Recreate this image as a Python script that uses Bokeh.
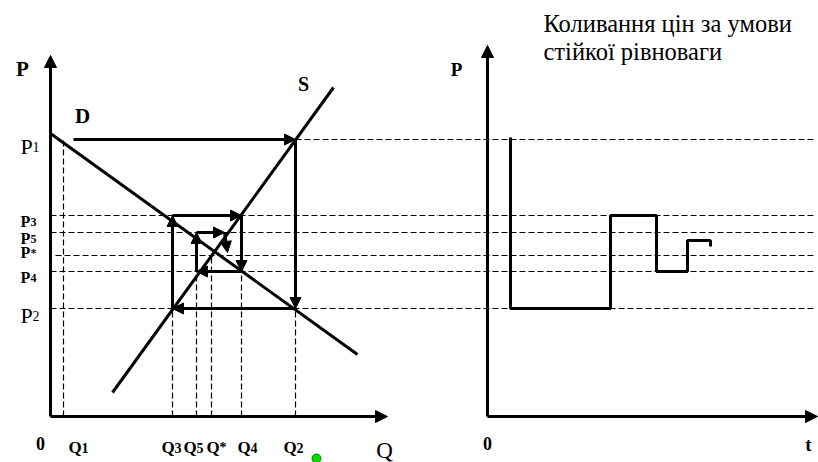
from bokeh.plotting import figure
from bokeh.layouts import row
from bokeh.models import Range1d, Arrow, NormalHead, ColumnDataSource
from bokeh.core.properties import value
from bokeh.embed import file_html
from bokeh.resources import INLINE

# ---------------- data ----------------
price_names = ["P1", "P3", "P5", "P*", "P4", "P2"]
price_levels = [27.7, 20.1, 18.4, 16.1, 14.5, 10.8]
qty_names = ["Q1", "Q3", "Q5", "Q*", "Q4", "Q2"]
qty_levels = [1.3, 12.2, 14.6, 16.1, 19.1, 24.5]
qty_tops = [27.7, 10.8, 14.5, 16.1, 14.5, 10.8]

demand_q = [0.0, 30.7]
demand_p = [28.3, 6.2]
supply_q = [6.2, 28.3]
supply_p = [2.4, 32.9]

cobweb_q = [2.3, 24.5, 24.5, 12.2, 12.2, 19.1, 19.1, 14.6, 14.6, 17.4, 17.7]
cobweb_p = [27.7, 27.7, 10.8, 10.8, 20.1, 20.1, 14.5, 14.5, 18.4, 18.4, 16.4]

time_t = [2.3, 2.3, 12.3, 12.3, 16.9, 16.9, 20.0, 20.0, 22.3, 22.3]
time_p = [27.9, 10.8, 10.8, 20.1, 20.1, 14.5, 14.5, 17.6, 17.6, 17.0]

title_lines = ["Коливання цін за умови", "стійкої рівноваги"]

# ---------------- layout ----------------
LX = (-5.0, 38.8)
RX = (-4.9, 33.1)
YR = (-4.6, 41.6)
H = 462
FONT = value("Liberation Serif")


def mk(w, xr):
    p = figure(width=w, height=H, x_range=Range1d(*xr), y_range=Range1d(*YR),
               output_backend="svg", toolbar_location=None,
               x_axis_type=None, y_axis_type=None, min_border=0)
    p.grid.visible = False
    p.outline_line_color = None
    return p


def arrows(p, x0, y0, x1, y1, width=3, size=11):
    src = ColumnDataSource(dict(x0=x0, y0=y0, x1=x1, y1=y1))
    p.add_layout(Arrow(end=NormalHead(size=size, fill_color="black", line_color="black"),
                       source=src, x_start="x0", y_start="y0", x_end="x1", y_end="y1",
                       line_width=width, line_color="black"))


def two_part(p, xs, ys, names, size_main, size_sub, bold, adv, yoff):
    style = "bold" if bold else "normal"
    p.text(x=xs, y=ys, text=[n[0] for n in names], text_font=FONT,
           text_font_size=f"{size_main}px", text_font_style=style,
           text_align="left", text_baseline="alphabetic", y_offset=yoff, text_color="black")
    p.text(x=xs, y=ys, text=[n[1:] for n in names], text_font=FONT,
           text_font_size=f"{size_sub}px", text_font_style=style,
           text_align="left", text_baseline="alphabetic", x_offset=adv, y_offset=yoff,
           text_color="black")


DASH = "6 3"

# ---------------- left panel ----------------
pl = mk(438, LX)

# dashed horizontals
hx0 = [qty_levels[-1] if n == "P1" else (0.5 if n == "P*" else 0.0) for n in price_names]
pl.segment(x0=hx0, y0=price_levels, x1=[LX[1]] * len(price_levels), y1=price_levels,
           line_color="black", line_width=1.2, line_dash=DASH)
# dashed verticals
pl.segment(x0=qty_levels, y0=[0] * len(qty_levels), x1=qty_levels, y1=qty_tops,
           line_color="black", line_width=1.2, line_dash=DASH)

# demand & supply
pl.line(demand_q, demand_p, line_color="black", line_width=3)
pl.line(supply_q, supply_p, line_color="black", line_width=3)

# cobweb arrows
arrows(pl, cobweb_q[:-1], cobweb_p[:-1], cobweb_q[1:], cobweb_p[1:], width=3, size=11)

# axes
arrows(pl, [0, 0], [0, 0], [0, 33.7], [36.1, 0], width=3, size=12)

# labels
pl.text(x=[-2.8], y=[34.8], text=["P"], text_font=FONT, text_font_size="21px",
        text_font_style="bold", text_align="center", text_baseline="middle")
pl.text(x=[3.2], y=[30.1], text=["D"], text_font=FONT, text_font_size="21px",
        text_font_style="bold", text_align="center", text_baseline="middle")
pl.text(x=[25.3], y=[33.3], text=["S"], text_font=FONT, text_font_size="20px",
        text_font_style="bold", text_align="center", text_baseline="middle")
pl.text(x=[-1.0], y=[-2.7], text=["0"], text_font=FONT, text_font_size="18px",
        text_font_style="bold", text_align="center", text_baseline="middle")
pl.text(x=[33.4], y=[-3.35], text=["Q"], text_font=FONT, text_font_size="23px",
        text_align="center", text_baseline="middle")
pl.scatter(x=[26.6], y=[-4.2], size=9, fill_color="#00dd00", line_color="#008800")

# price labels: big ones (P1, P2) and small bold ones
big = [i for i, n in enumerate(price_names) if n in ("P1", "P2")]
small = [i for i, n in enumerate(price_names) if n not in ("P1", "P2")]
label_shift = {"P*": 0.9}
two_part(pl, [-3.0] * len(big), [price_levels[i] for i in big],
         [price_names[i] for i in big], 22, 14, False, 12, 7)
two_part(pl, [-3.0] * len(small),
         [price_levels[i] + label_shift.get(price_names[i], 0) for i in small],
         [price_names[i] for i in small], 16, 12, True, 10, 6)

# quantity labels
q_off = {"Q1": 0.5, "Q3": -1.1, "Q5": -1.3, "Q*": -0.5, "Q4": -0.4, "Q2": -1.2}
two_part(pl, [q + q_off[n] for q, n in zip(qty_levels, qty_names)], [-3.1] * len(qty_levels),
         qty_names, 17, 14, True, 13, 0)

# ---------------- right panel ----------------
pr = mk(380, RX)
pr.segment(x0=[RX[0]] * len(price_levels), y0=price_levels,
           x1=[RX[1] - 0.3] * len(price_levels), y1=price_levels,
           line_color="black", line_width=1.2, line_dash=DASH)
pr.line(time_t, time_p, line_color="black", line_width=3)
arrows(pr, [0, 0], [0, 0], [0, 33.0], [37.1, 0], width=3, size=12)

pr.text(x=[-3.1], y=[34.7], text=["P"], text_font=FONT, text_font_size="19px",
        text_font_style="bold", text_align="center", text_baseline="middle")
pr.text(x=[0], y=[-2.7], text=["0"], text_font=FONT, text_font_size="18px",
        text_font_style="bold", text_align="center", text_baseline="middle")
pr.text(x=[32.1], y=[-2.8], text=["t"], text_font=FONT, text_font_size="19px",
        text_font_style="bold", text_align="center", text_baseline="middle")
pr.text(x=[5.6, 5.6], y=[39.3, 36.5], text=title_lines, text_font=FONT,
        text_font_size="24.5px", text_align="left", text_baseline="middle",
        text_color="black")

layout = row(pl, pr)
open("out.html", "w").write(file_html(layout, INLINE))
